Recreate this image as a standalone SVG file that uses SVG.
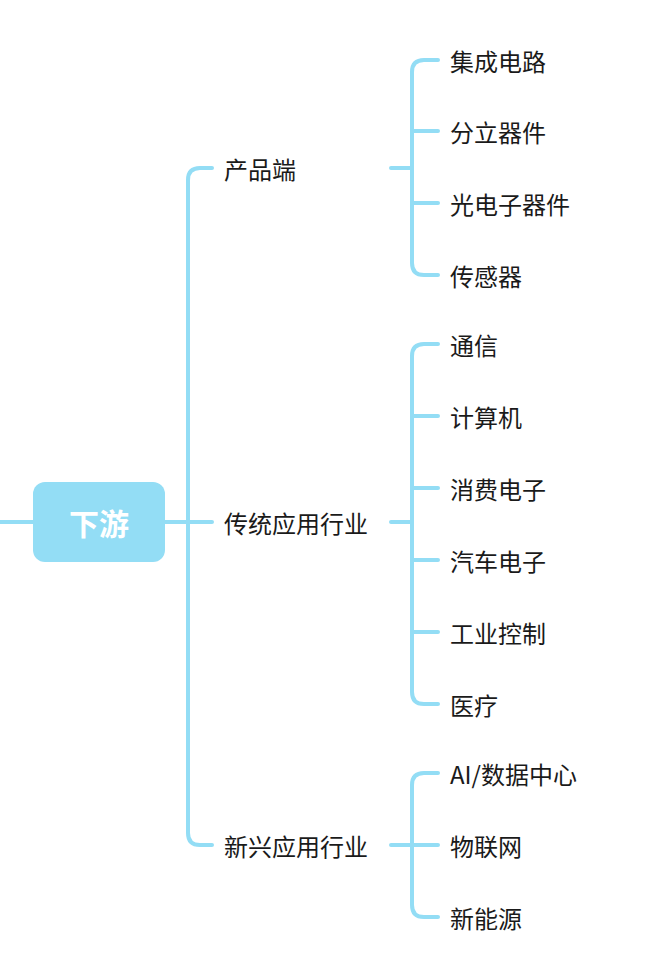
<svg xmlns="http://www.w3.org/2000/svg" width="656" height="976" viewBox="0 0 656 976">
<style>
.c{fill:none;stroke:#93DDF5;stroke-width:4;stroke-linecap:round}
text{font-family:"Noto Sans CJK SC","Noto Sans",sans-serif;font-size:24px;fill:#1a1a1a;dominant-baseline:central}
.r{fill:#fff;font-weight:bold;font-size:30px;text-anchor:middle}
</style>
<rect width="656" height="976" fill="#fff"/>
<g id="connectors" class="c">
<path d="M0 522H33M165 522H212"/>
<path d="M212 168H200Q188 168 188 180V833Q188 845 200 845H212"/>
<path d="M391 168H412M391 522H412M391 845H412"/>
<path d="M438 60H424Q412 60 412 72V263Q412 275 424 275H438M412 131Q412 131 438 131M412 203H438"/>
<path d="M438 344H424Q412 344 412 356V692Q412 704 424 704H438M412 416H438M412 488H438M412 560H438M412 632H438"/>
<path d="M438 773H424Q412 773 412 785V905Q412 917 424 917H438M412 845H438"/>
</g>
<g id="root"><rect x="33" y="482" width="132" height="80" rx="12" fill="#93DDF5"/><text class="r" x="99" y="522">下游</text></g>
<g id="b1"><text x="224" y="168">产品端</text></g>
<g id="b2"><text x="224" y="522">传统应用行业</text></g>
<g id="b3"><text x="224" y="845">新兴应用行业</text></g>
<g id="l1"><text x="450" y="60">集成电路</text></g>
<g id="l2"><text x="450" y="131">分立器件</text></g>
<g id="l3"><text x="450" y="203">光电子器件</text></g>
<g id="l4"><text x="450" y="275">传感器</text></g>
<g id="l5"><text x="450" y="344">通信</text></g>
<g id="l6"><text x="450" y="416">计算机</text></g>
<g id="l7"><text x="450" y="488">消费电子</text></g>
<g id="l8"><text x="450" y="560">汽车电子</text></g>
<g id="l9"><text x="450" y="632">工业控制</text></g>
<g id="l10"><text x="450" y="704">医疗</text></g>
<g id="l11"><text x="450" y="773">AI/数据中心</text></g>
<g id="l12"><text x="450" y="845">物联网</text></g>
<g id="l13"><text x="450" y="917">新能源</text></g>
</svg>
